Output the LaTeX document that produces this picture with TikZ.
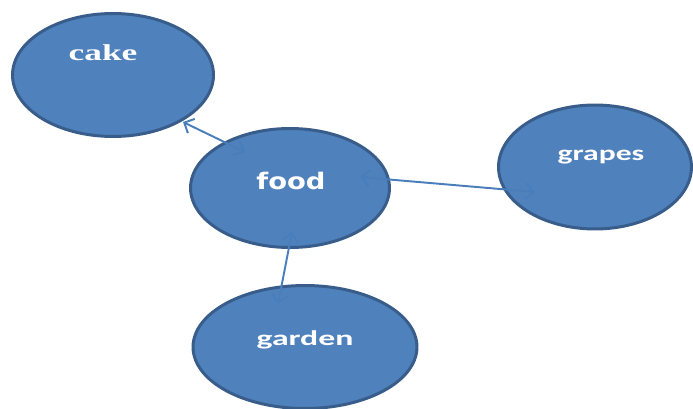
\documentclass[tikz,border=0pt]{standalone}
\usepackage{fontspec}
\usepackage{tikz}
\usetikzlibrary{arrows.meta,shapes.geometric,calc}
\newfontfamily\timesfont{Liberation Serif}
\newfontfamily\verdfont{DejaVu Sans}
\newfontfamily\califont{Carlito}
\definecolor{bubblefill}{HTML}{4F81BD}
\definecolor{bubbleedge}{HTML}{385D8A}
\definecolor{linkblue}{HTML}{4A7EBB}
\tikzset{
  bubble/.style={ellipse, draw=bubbleedge, fill=bubblefill, line width=1.7pt, inner sep=0pt},
  word/.style={text=white, inner sep=0pt},
  link/.style={{Straight Barb[length=4.5pt, width=9pt]}-{Straight Barb[length=4.5pt, width=9pt]}, draw=linkblue, line width=1.1pt}
}

\begin{document}
\begin{tikzpicture}[x=0.02cm, y=-0.02cm]
  \useasboundingbox (0,0) rectangle (693,409);

  \node[bubble, minimum width=4.02cm, minimum height=2.46cm] (cake) at (113,75) {};
  \node[bubble, minimum width=3.98cm, minimum height=2.38cm] (food) at (290,188) {};
  \node[bubble, minimum width=3.86cm, minimum height=2.48cm] (grapes) at (595,167) {};
  \node[bubble, minimum width=4.48cm, minimum height=2.46cm] (garden) at (305,347) {};

  \node[word, font=\timesfont\bfseries\fontsize{13}{15}\selectfont] (cake-text) at ([shift={(-10,-22)}]cake.center) {\scalebox{1.55}[1]{cake}};
  \node[word, font=\verdfont\bfseries\fontsize{13}{15}\selectfont] (food-text) at ([shift={(1,-7)}]food.center) {\scalebox{1.2}[1]{food}};
  \node[word, font=\califont\bfseries\fontsize{12}{14}\selectfont] (grapes-text) at ([shift={(6,-10)}]grapes.center) {\scalebox{1.5}[1]{grapes}};
  \node[word, font=\califont\bfseries\fontsize{12}{14}\selectfont] (garden-text) at ([shift={(0,-7)}]garden.center) {\scalebox{1.6}[1]{garden}};

  \draw[link] ([shift={(70,47)}]cake.center) -- ([shift={(-45,-36)}]food.center);
  \draw[link] ([shift={(70,-11)}]food.center) -- ([shift={(-60,25)}]grapes.center);
  \draw[link] ([shift={(2,44)}]food.center) -- ([shift={(-27,-43)}]garden.center);
\end{tikzpicture}
\end{document}
